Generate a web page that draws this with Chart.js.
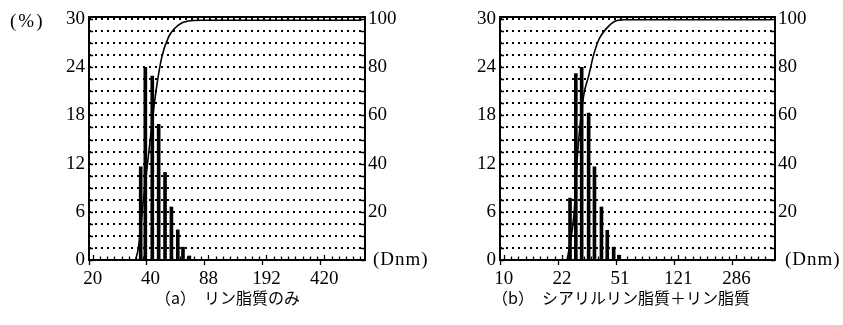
<!DOCTYPE html>
<html lang="ja">
<head>
<meta charset="utf-8">
<script src="https://cdn.jsdelivr.net/npm/chart.js@4.4.1/dist/chart.umd.min.js"></script>
<style>
  body { margin: 0; background: #fff; width: 843px; height: 325px; position: relative; overflow: hidden; color: #000; }
  canvas { position: absolute; top: 0; }
  .texto { position: absolute; white-space: nowrap; line-height: 1; font-family: "Liberation Serif", serif; font-size: 19px; }
  .legenda { position: absolute; white-space: nowrap; line-height: 1; font-family: "Noto Sans CJK JP", sans-serif; font-size: 16px; }
</style>
</head>
<body>
<canvas id="graficoA" width="420" height="300" style="left:0"></canvas>
<canvas id="graficoB" width="423" height="300" style="left:420px"></canvas>

<div class="texto" style="left:10px; top:11px; letter-spacing:2px">(%)</div>
<div class="texto" style="left:373px; top:249px; letter-spacing:1px">(Dnm)</div>
<div class="texto" style="left:785px; top:249px; letter-spacing:1px">(Dnm)</div>
<div class="legenda" style="left:155px; top:289px">（a）　リン脂質のみ</div>
<div class="legenda" style="left:492px; top:289px">（b）　シアリルリン脂質＋リン脂質</div>

<script>
// eixo x em escala logarítmica: cada unidade = um rótulo
const rotulosXa = ["20", "40", "88", "192", "420"];
const rotulosXb = ["10", "22", "51", "121", "286"];

// (a) リン脂質のみ — barras (%)
const posBarrasA = [0.83, 0.91, 1.03, 1.14, 1.25, 1.36, 1.47, 1.56, 1.67];
const pctA = [11.6, 24.0, 22.9, 16.9, 10.9, 6.6, 3.75, 1.6, 0.5];
// curva acumulada (%)
const posAcumA = [0.74, 0.79, 0.87, 0.98, 1.08, 1.19, 1.31, 1.48, 1.65, 1.87, 4.64];
const acumA = [0, 5, 23.6, 46.9, 67.6, 83.8, 92.5, 97.5, 99.2, 99.5, 99.5];

// (b) シアリルリン脂質＋リン脂質
const posBarrasB = [1.14, 1.24, 1.34, 1.46, 1.56, 1.68, 1.78, 1.89, 1.98];
const pctB = [7.7, 23.2, 24.0, 18.3, 11.6, 6.6, 3.7, 1.6, 0.6];
const posAcumB = [1.09, 1.12, 1.21, 1.26, 1.37, 1.46, 1.54, 1.64, 1.76, 1.89, 1.97, 2.08, 4.6];
const acumB = [0, 4, 19.5, 41, 67.6, 76.3, 84.6, 91.7, 95.9, 98.8, 99.5, 99.7, 99.7];

const TOPO = 17;
const BASE = 260;
const MAX_PCT = 30.25;

const molduraEMarcas = {
  id: "molduraEMarcas",
  afterDraw(chart) {
    const ctx = chart.ctx;
    const area = chart.chartArea;
    const eixo = chart.scales.x;
    const eixoY = chart.scales.y;
    ctx.save();
    ctx.strokeStyle = "#000";
    ctx.lineWidth = 1.3;
    ctx.beginPath();
    // marcas menores do eixo x, para dentro
    eixo.ticks.forEach(t => {
      const x = Math.round(eixo.getPixelForValue(t.value)) + 0.5;
      ctx.moveTo(x, area.bottom);
      ctx.lineTo(x, area.bottom - (Number.isInteger(t.value) ? 5 : 3.5));
    });
    // marcas dos eixos verticais
    eixoY.ticks.forEach(t => {
      const y = Math.round(eixoY.getPixelForValue(t.value)) + 0.5;
      ctx.moveTo(area.left, y);
      ctx.lineTo(area.left + 4, y);
      ctx.moveTo(area.right, y);
      ctx.lineTo(area.right - 4, y);
    });
    ctx.stroke();
    ctx.lineWidth = 2;
    ctx.strokeRect(area.left, area.top, area.right - area.left, area.bottom - area.top);
    ctx.restore();
  }
};

function pontos(xs, ys) {
  return xs.map((x, i) => ({ x, y: ys[i] }));
}

function criarPainel(id, rotulos, posBarras, pct, posAcum, acum, maxX, larguraEsq, larguraDir) {
  const canvas = document.getElementById(id);
  const fonte = { family: "Liberation Serif", size: 19 };

  return new Chart(canvas, {
    type: "bar",
    data: {
      datasets: [
        {
          type: "line",
          data: pontos(posAcum, acum),
          yAxisID: "y2",
          borderColor: "#000",
          borderWidth: 1.6,
          pointRadius: 0,
          cubicInterpolationMode: "monotone",
          order: 0,
        },
        {
          type: "bar",
          data: pontos(posBarras, pct),
          yAxisID: "y",
          backgroundColor: "#000",
          barThickness: 3,
          grouped: false,
          order: 1,
        }
      ]
    },
    options: {
      responsive: false,
      animation: false,
      layout: { padding: { top: TOPO, left: 0, right: 0, bottom: 0 } },
      plugins: { legend: { display: false }, tooltip: { enabled: false } },
      scales: {
        x: {
          type: "linear",
          min: 0,
          max: maxX,
          afterBuildTicks: s => {
            const lista = [];
            for (let k = 0; k / 8 <= maxX; k++) lista.push({ value: k / 8 });
            s.ticks = lista;
          },
          afterFit: s => { s.height = canvas.height - BASE; },
          grid: {
            drawOnChartArea: false,
            drawTicks: true,
            tickLength: 5,
            tickWidth: 1.3,
            tickColor: c => (c.tick && Number.isInteger(c.tick.value) ? "#000" : "rgba(0,0,0,0)"),
          },
          border: { display: false },
          ticks: {
            autoSkip: false,
            maxRotation: 0,
            padding: 3,
            color: "#000",
            font: fonte,
            callback: v => (Number.isInteger(v) ? rotulos[v] : ""),
          }
        },
        y: {
          position: "left",
          min: 0,
          max: MAX_PCT,
          afterBuildTicks: s => {
            const lista = [];
            for (let k = 0; k <= 20; k++) lista.push({ value: k * 1.5 });
            s.ticks = lista;
          },
          afterFit: s => { s.width = larguraEsq; },
          grid: {
            drawOnChartArea: true,
            drawTicks: false,
            color: "#000",
            lineWidth: 2,
          },
          border: { display: false, dash: [2, 4] },
          ticks: {
            autoSkip: false,
            padding: 4,
            color: "#000",
            font: fonte,
            callback: v => (v % 6 === 0 ? String(v) : ""),
          }
        },
        y2: {
          position: "right",
          min: 0,
          max: MAX_PCT * 100 / 30,
          afterBuildTicks: s => {
            const lista = [];
            for (let k = 0; k <= 20; k++) lista.push({ value: k * 5 });
            s.ticks = lista;
          },
          afterFit: s => { s.width = larguraDir; },
          grid: { drawOnChartArea: false, drawTicks: false },
          border: { display: false },
          ticks: {
            autoSkip: false,
            padding: 3,
            color: "#000",
            font: fonte,
            callback: v => (v % 20 === 0 && v > 0 ? String(v) : ""),
          }
        }
      }
    },
    plugins: [molduraEMarcas]
  });
}

criarPainel("graficoA", rotulosXa, posBarrasA, pctA, posAcumA, acumA, 4.64, 89, 55);
criarPainel("graficoB", rotulosXb, posBarrasB, pctB, posAcumB, acumB, 4.6, 80, 68);
</script>
</body>
</html>
